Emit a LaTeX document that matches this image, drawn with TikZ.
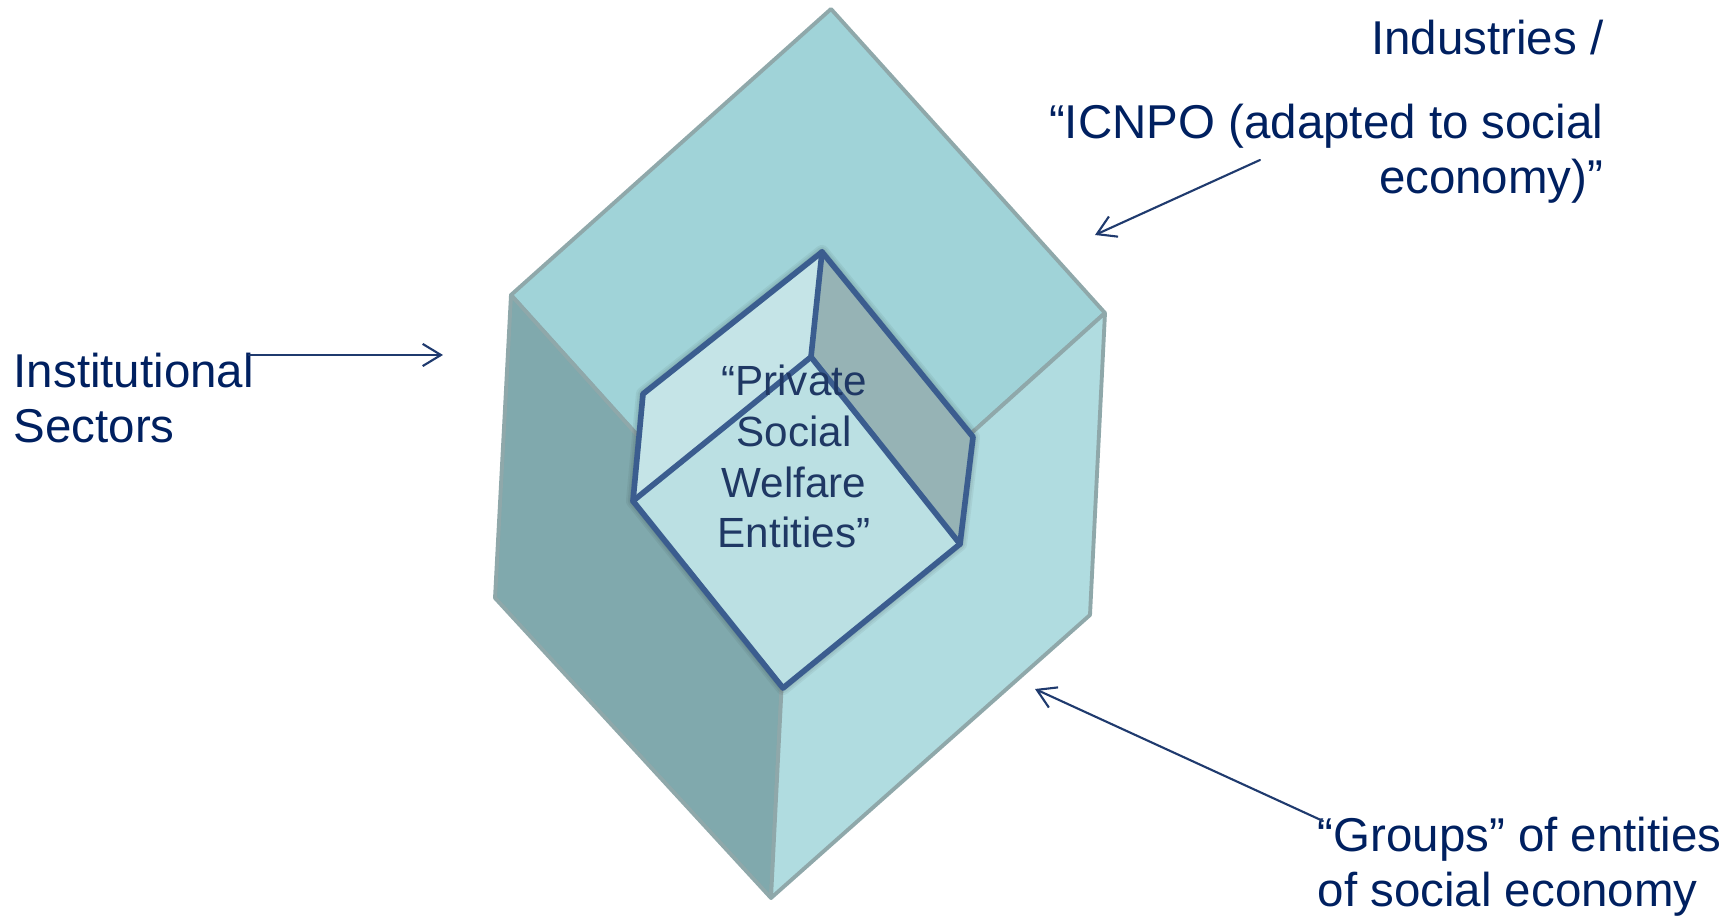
\documentclass[tikz,border=0pt]{standalone}
\usepackage{fontspec}
\setmainfont{Liberation Sans}
\usetikzlibrary{arrows.meta}
\definecolor{labelnavy}{HTML}{002060}
\definecolor{arrownavy}{HTML}{1F3A6E}
\definecolor{edgegray}{HTML}{8FA8AA}
\definecolor{topface}{HTML}{A0D3D8}
\definecolor{leftface}{HTML}{80A9AD}
\definecolor{rightface}{HTML}{B0DCE0}
\definecolor{innerleft}{HTML}{C5E4E7}
\definecolor{innerright}{HTML}{96B3B5}
\definecolor{innerfront}{HTML}{BBE0E3}
\definecolor{inneredgeblue}{HTML}{3B5D8F}
\definecolor{welfaretext}{HTML}{1F3864}
\begin{document}
\begin{tikzpicture}[x=0.01cm,y=-0.01cm,line cap=round,line join=round,
  outeredge/.style={draw=edgegray,line width=1.1pt},
  inneredge/.style={draw=inneredgeblue,line width=1.6pt},
  softshade/.style={draw=black,draw opacity=0.05,line width=#1},
  pointer/.style={draw=arrownavy,line width=0.6pt,-{Straight Barb[length=5.2pt,width=6.3pt]}},
  lbl/.style={text=labelnavy,inner sep=0pt,font=\fontsize{13.5}{15.9}\selectfont}]
  \useasboundingbox (0,0) rectangle (1735,916);
  % outer cube
  \coordinate (T) at (831,9);
  \coordinate (L) at (511,295);
  \coordinate (R) at (1105,313);
  \coordinate (C) at (786,600);
  \coordinate (BL) at (495,598);
  \coordinate (BR) at (1090,615);
  \coordinate (B) at (771,898);
  \filldraw[fill=topface,outeredge] (T) -- (R) -- (C) -- (L) -- cycle;
  \filldraw[fill=leftface,outeredge] (L) -- (C) -- (B) -- (BL) -- cycle;
  \filldraw[fill=rightface,outeredge] (C) -- (R) -- (BR) -- (B) -- cycle;
  % inner cube
  \coordinate (IT) at (822,252);
  \coordinate (IL) at (643,394);
  \coordinate (IR) at (973,437);
  \coordinate (IC) at (811,357);
  \coordinate (ILL) at (633,501);
  \coordinate (ILR) at (960,544);
  \coordinate (IB) at (783,688);
  \foreach \w in {4pt,3pt,2pt}
    \draw[softshade=\w,shift={(-2,3)}] (IT) -- (IL) -- (ILL) -- (IB) -- (ILR) -- (IR) -- cycle;
  \fill[innerleft] (IT) -- (IC) -- (ILL) -- (IL) -- cycle;
  \fill[innerright] (IT) -- (IR) -- (ILR) -- (IC) -- cycle;
  \fill[innerfront] (IC) -- (ILR) -- (IB) -- (ILL) -- cycle;
  \draw[inneredge] (IT) -- (IL) -- (ILL) -- (IB) -- (ILR) -- (IR) -- cycle;
  \draw[inneredge] (IT) -- (IC) -- (ILL);
  \draw[inneredge] (IC) -- (ILR);
  % labels
  \node[lbl,anchor=base,align=center,text=welfaretext,font=\fontsize{12}{14.5}\selectfont] (welfare) at (794,548) {“Private\\Social\\Welfare\\Entities”};
  \node[lbl,anchor=base west,align=left] (sectors) at (13,443) {Institutional\\Sectors};
  \node[lbl,anchor=base east] (industries) at (1604,55) {Industries /};
  \node[lbl,anchor=base east,align=right] (icnpo) at (1604,194) {“ICNPO (adapted to social\\economy)”};
  \node[lbl,anchor=base west,align=left] (groups) at (1317,907) {“Groups” of entities\\of social economy};
  % arrows
  \coordinate (sectorsTail) at (249,355);
  \coordinate (sectorsTip) at (443,355);
  \coordinate (icnpoTail) at (1260,160);
  \coordinate (icnpoTip) at (1095,235);
  \coordinate (groupsTail) at (1323,821);
  \coordinate (groupsTip) at (1035,689);
  \draw[pointer] (sectorsTail) -- (sectorsTip);
  \draw[pointer] (icnpoTail) -- (icnpoTip);
  \draw[pointer] (groupsTail) -- (groupsTip);
\end{tikzpicture}
\end{document}
